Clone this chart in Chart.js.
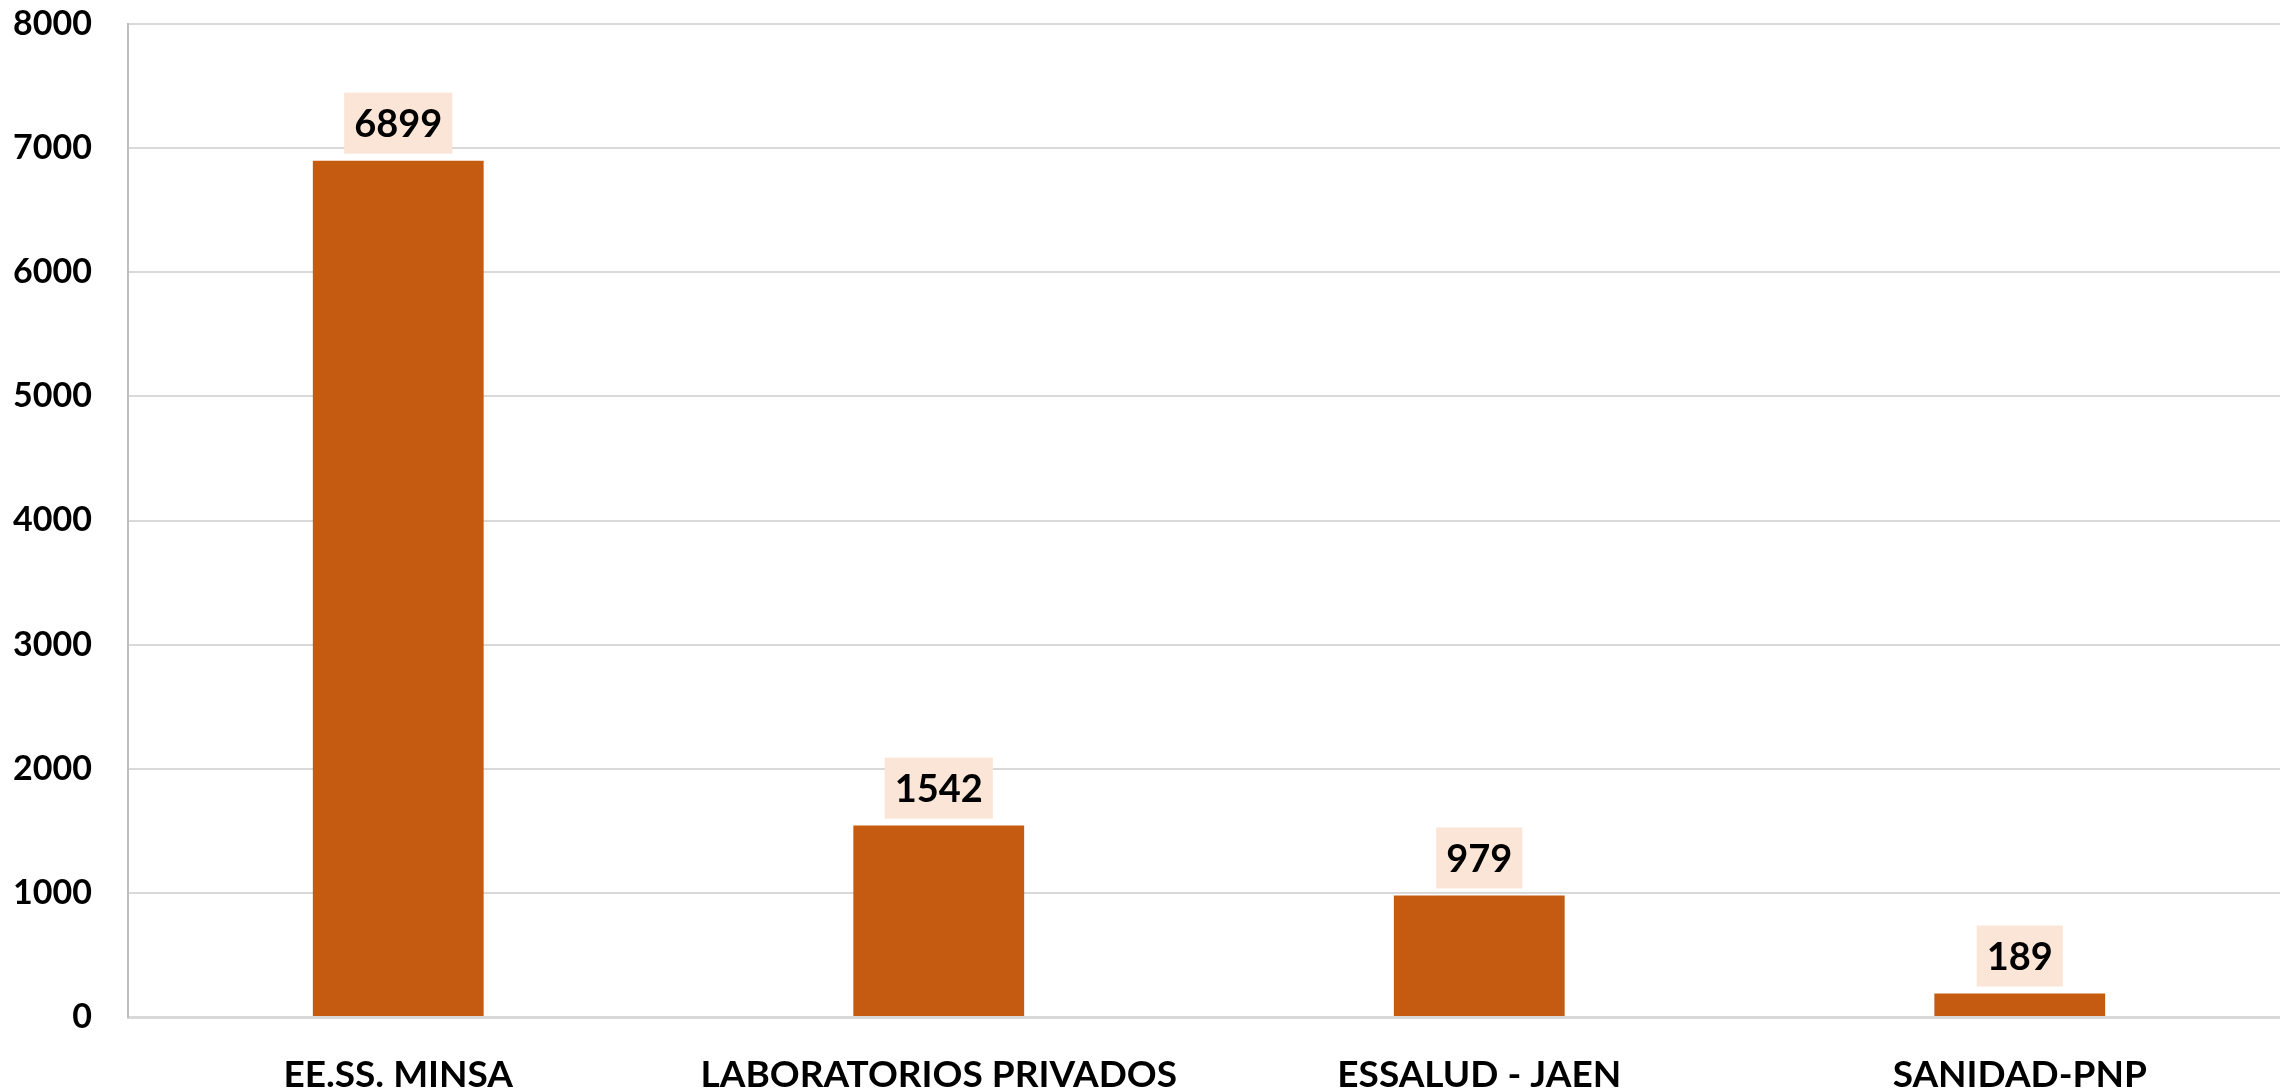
<!DOCTYPE html>
<html>
<head>
<meta charset="utf-8">
<script src="https://cdn.jsdelivr.net/npm/chart.js@4.4.0/dist/chart.umd.min.js"></script>
<style>
  html, body { margin: 0; padding: 0; background: #fff; overflow: hidden; }
  #wrap { width: 2280px; height: 1091px; overflow: hidden; }
</style>
</head>
<body>
<div id="wrap"><canvas id="barChart" width="2290" height="1091"></canvas></div>
<script>
const categories = ['EE.SS. MINSA', 'LABORATORIOS PRIVADOS', 'ESSALUD - JAEN', 'SANIDAD-PNP'];
const values = [6899, 1542, 979, 189];
const yTicks = [0, 1000, 2000, 3000, 4000, 5000, 6000, 7000, 8000];

const FONT = 'Lato, "Open Sans", sans-serif';

// value boxes drawn above each bar
const valueLabels = {
  id: 'valueLabels',
  afterDatasetsDraw(chart) {
    const ctx = chart.ctx;
    const meta = chart.getDatasetMeta(0);
    ctx.save();
    ctx.font = 'bold 38px ' + FONT;
    ctx.textAlign = 'center';
    ctx.textBaseline = 'middle';
    meta.data.forEach((bar, i) => {
      const txt = String(chart.data.datasets[0].data[i]);
      const w = ctx.measureText(txt).width + 20;
      const h = 61;
      const bottom = bar.y - 7;
      ctx.fillStyle = '#FBE5D6';
      ctx.fillRect(bar.x - w / 2, bottom - h, w, h);
      ctx.fillStyle = '#000';
      ctx.fillText(txt, bar.x, bottom - h / 2 + 2);
    });
    ctx.restore();
  }
};

const ctx = document.getElementById('barChart').getContext('2d');
const chart = new Chart(ctx, {
  type: 'bar',
  data: {
    labels: categories,
    datasets: [{
      data: values,
      backgroundColor: '#C55A11',
      borderWidth: 0,
      barPercentage: 0.316,
      categoryPercentage: 1.0
    }]
  },
  options: {
    responsive: false,
    animation: false,
    layout: { padding: { top: 24, right: 0, left: 0, bottom: 0 } },
    plugins: {
      legend: { display: false },
      tooltip: { enabled: false },
      title: { display: false }
    },
    scales: {
      x: {
        grid: { display: false },
        border: { display: true, color: '#d9d9d9', width: 3 },
        ticks: {
          color: '#000',
          padding: 28,
          autoSkip: false,
          maxRotation: 0,
          font: { family: FONT, size: 37, weight: 'bold' }
        },
        afterFit(scale) {
          scale.height = 74;
          scale.paddingLeft = 0;
          scale.paddingRight = 0;
        }
      },
      y: {
        min: 0,
        max: 8000,
        afterBuildTicks(scale) { scale.ticks = yTicks.map(v => ({ value: v })); },
        grid: { color: '#d9d9d9', lineWidth: 2, drawTicks: false },
        border: { display: true, color: '#bfbfbf', width: 2 },
        ticks: {
          color: '#000',
          padding: 36,
          font: { family: FONT, size: 34, weight: 'bold' },
          callback: v => String(v)
        },
        afterFit(scale) {
          scale.width = 128;
          scale.paddingTop = 0;
          scale.paddingBottom = 0;
        }
      }
    }
  },
  plugins: [valueLabels]
});
</script>
</body>
</html>
